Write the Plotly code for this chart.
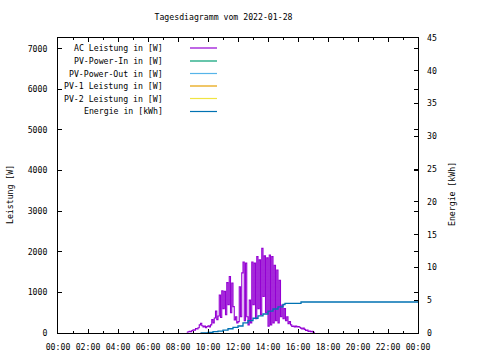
import plotly.graph_objects as go

DAY = "2022-01-28"

# AC Leistung in [W], 5-minute samples
ac_times = ["08:35","08:40","08:45","08:50","08:55","09:00","09:05","09:10","09:15","09:20",
            "09:25","09:30","09:35","09:40","09:45","09:50","09:55","10:00","10:05","10:10",
            "10:15","10:20","10:25","10:30","10:35","10:40","10:45","10:50","10:55","11:00",
            "11:05","11:10","11:15","11:20","11:25","11:30","11:35","11:40","11:45","11:50",
            "11:55","12:00","12:05","12:10","12:15","12:20","12:25","12:30","12:35","12:40",
            "12:45","12:50","12:55","13:00","13:05","13:10","13:15","13:20","13:25","13:30",
            "13:35","13:40","13:45","13:50","13:55","14:00","14:05","14:10","14:15","14:20",
            "14:25","14:30","14:35","14:40","14:45","14:50","14:55","15:00","15:05","15:10",
            "15:15","15:20","15:25","15:30","15:35","15:40","15:45","15:50","15:55","16:00",
            "16:05","16:10","16:15","16:20","16:25","16:30","16:35","16:40","16:45","16:50",
            "16:55","17:00","17:05"]
ac_power = [20, 30, 40, 35, 60, 80, 70, 110, 100, 130,
            200, 240, 180, 150, 170, 130, 160, 180, 150, 200,
            330, 250, 370, 540, 330, 420, 935, 380, 1040, 600,
            1030, 450, 1240, 700, 1390, 500, 1230, 650, 320, 400,
            250, 280, 1140, 400, 1480, 1750, 300, 1720, 400, 200,
            810, 250, 1750, 700, 1720, 350, 1880, 600, 1800, 450,
            2085, 900, 1900, 500, 1850, 170, 1920, 200, 1880, 250,
            1670, 300, 1550, 250, 1300, 400, 690, 350, 600, 300,
            400, 230, 280, 200, 160, 170, 150, 170, 150, 160,
            140, 120, 100, 120, 90, 60, 70, 40, 50, 35,
            40, 20, 0]

# Energie in [kWh]
en_times = ["09:30","10:00","10:20","10:40","11:00","11:20","11:40","12:00","12:20","12:40",
            "13:00","13:20","13:40","14:00","14:20","14:40","15:00","15:08","16:12","24:00"]
energy = [0.0, 0.1, 0.2, 0.3, 0.45, 0.65, 0.85, 1.07, 1.55, 1.9,
          2.25, 2.6, 2.9, 3.35, 3.66, 4.0, 4.35, 4.53, 4.73, 4.73]

legend_names = ["AC Leistung in [W]", "PV-Power-In in [W]", "PV-Power-Out in [W]",
                "PV-1 Leistung in [W]", "PV-2 Leistung in [W]", "Energie in [kWh]"]
legend_colors = ["#9400d3", "#009e73", "#56b4e9", "#e69f00", "#f0e442", "#0072b2"]

x_ticks = ["00:00","02:00","04:00","06:00","08:00","10:00","12:00","14:00","16:00",
           "18:00","20:00","22:00","00:00"]


def ts(t):
    if t == "24:00":
        return "2022-01-29 00:00"
    return f"{DAY} {t}"


FONT = "DejaVu Sans Mono"
FS = 8.2
fig = go.Figure()
fig.add_trace(go.Scatter(x=[ts(t) for t in ac_times], y=ac_power, mode="lines",
                         line=dict(color=legend_colors[0], width=1.1, shape="hv"),
                         showlegend=False))
fig.add_trace(go.Scatter(x=[ts(t) for t in en_times], y=energy, mode="lines", yaxis="y2",
                         line=dict(color=legend_colors[5], width=1.3, shape="hv"),
                         showlegend=False))

W, H = 480, 360
L, R, T, B = 58, 418, 38, 333


def px(x):
    return (x - L) / (R - L)


def py(y):
    return (B - y) / (B - T)


shapes = []
annotations = []
row_y = [48, 61, 73.5, 86, 98.5, 111.5]
for name, col, yy in zip(legend_names, legend_colors, row_y):
    annotations.append(dict(x=px(165), y=py(yy), xref="paper", yref="paper", text=name,
                            showarrow=False, xanchor="right", yanchor="middle",
                            font=dict(family=FONT, size=FS, color="black")))
    shapes.append(dict(type="line", xref="paper", yref="paper", x0=px(190), x1=px(217),
                       y0=py(yy), y1=py(yy), line=dict(color=col, width=1.2)))

annotations.append(dict(x=px(10), y=py(195), xref="paper", yref="paper", text="Leistung [W]",
                        textangle=-90, showarrow=False, xanchor="center", yanchor="middle",
                        font=dict(family=FONT, size=FS, color="black")))
annotations.append(dict(x=px(452), y=py(194), xref="paper", yref="paper", text="Energie [kWh]",
                        textangle=-90, showarrow=False, xanchor="center", yanchor="middle",
                        font=dict(family=FONT, size=FS, color="black")))

tickfont = dict(family=FONT, size=FS, color="black")
fig.update_layout(
    width=W, height=H,
    margin=dict(l=L, r=W - R, t=T, b=H - B, pad=0, autoexpand=False),
    paper_bgcolor="white", plot_bgcolor="white",
    title=dict(text="Tagesdiagramm vom 2022-01-28", x=223.5 / W, xanchor="center",
               y=1 - 17 / H, yanchor="middle", font=dict(family=FONT, size=FS, color="black")),
    xaxis=dict(type="date", range=[ts("00:00"), ts("24:00")], automargin=False,
               tickvals=[f"2022-01-28 {h:02d}:00" for h in range(0, 24, 2)] + ["2022-01-29 00:00"],
               ticktext=x_ticks, ticks="inside", ticklen=4, tickcolor="black",
               showline=True, linecolor="black", linewidth=1, mirror="ticks",
               showgrid=False, zeroline=False, tickfont=tickfont, ticklabelstandoff=6,
               minor=dict(dtick=3600000, ticks="inside", ticklen=2, tickcolor="black", showgrid=False)),
    yaxis=dict(range=[0, 7265], tickvals=[0, 1000, 2000, 3000, 4000, 5000, 6000, 7000],
               automargin=False,
               ticks="inside", ticklen=4, tickcolor="black",
               showline=True, linecolor="black", linewidth=1, mirror="ticks",
               showgrid=False, zeroline=False, tickfont=tickfont, ticklabelstandoff=8),
    yaxis2=dict(range=[0, 45], tickvals=[0, 5, 10, 15, 20, 25, 30, 35, 40, 45],
                automargin=False,
                overlaying="y", side="right", ticks="inside", ticklen=4, tickcolor="black",
                showline=False, showgrid=False, zeroline=False, tickfont=tickfont,
                ticklabelstandoff=8),
    shapes=shapes, annotations=annotations,
)

fig.write_html("out.html", config={"displayModeBar": False},
               post_script="document.body.style.margin='0';")
